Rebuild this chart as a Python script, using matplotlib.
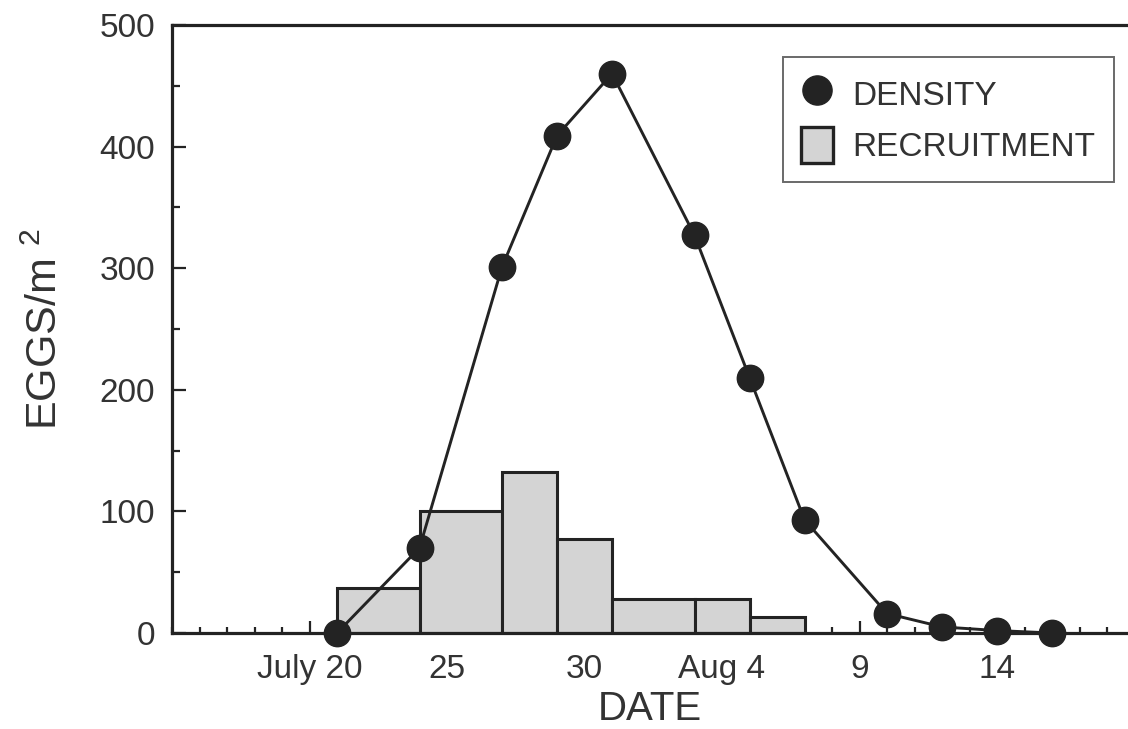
import matplotlib
matplotlib.use('Agg')
import matplotlib.pyplot as plt
from matplotlib.lines import Line2D
from matplotlib.patches import Patch
from matplotlib.ticker import MultipleLocator, FixedLocator

plt.rcParams['font.family'] = ['Liberation Sans', 'DejaVu Sans']
plt.rcParams['mathtext.default'] = 'regular'

# days counted from July 1 (Aug 1 = 32)
density_day = [21, 24, 27, 29, 31, 34, 36, 38, 41, 43, 45, 47]
density = [0, 70, 301, 409, 460, 327, 210, 93, 16, 5, 2, 0]

recruit_start = [21, 24, 27, 29, 31, 34, 36]
recruit_end = [24, 27, 29, 31, 34, 36, 38]
recruitment = [37, 100, 132, 77, 28, 28, 13]

tick_days = [20, 25, 30, 35, 40, 45]
tick_labels = ['July 20', '25', '30', 'Aug 4', '9', '14']

INK = '#232323'
TXT = '#333333'

fig = plt.figure(figsize=(11.28, 7.29), dpi=100)
ax = fig.add_axes([172 / 1128, 96 / 729, 956 / 1128, 608 / 729])

widths = [e - s for s, e in zip(recruit_start, recruit_end)]
ax.bar(recruit_start, recruitment, width=widths, align='edge',
       facecolor='#d4d4d4', edgecolor=INK, linewidth=2.2, zorder=2)

ax.plot(density_day, density, '-o', color=INK, lw=2.1,
        markersize=19, markerfacecolor=INK, markeredgecolor=INK,
        clip_on=False, zorder=4)

ax.set_xlim(15, 49.76)
ax.set_ylim(0, 500)

ax.xaxis.set_major_locator(FixedLocator(tick_days))
ax.set_xticklabels(tick_labels)
ax.xaxis.set_minor_locator(MultipleLocator(1))
ax.yaxis.set_major_locator(MultipleLocator(100))
ax.yaxis.set_minor_locator(MultipleLocator(50))

ax.tick_params(which='both', direction='in', color=INK, width=1.6,
               labelcolor=TXT, labelsize=24)
ax.tick_params(axis='x', which='major', length=9, pad=15)
ax.tick_params(axis='x', which='minor', length=4)
ax.tick_params(axis='y', which='major', length=10, pad=12)
ax.tick_params(axis='y', which='minor', length=6)
ax.tick_params(top=False, right=False, which='both')

for side in ['left', 'bottom', 'top']:
    ax.spines[side].set_linewidth(2.3)
    ax.spines[side].set_color(INK)
ax.spines['right'].set_visible(False)

ax.set_xlabel('DATE', fontsize=29, color=TXT, labelpad=4)
ax.set_ylabel('EGGS/m $^{2}$', fontsize=31, color=TXT, labelpad=24)

handles = [
    Line2D([], [], marker='o', linestyle='none', markersize=21,
           markerfacecolor=INK, markeredgecolor=INK, label='DENSITY'),
    Patch(facecolor='#d4d4d4', edgecolor=INK, linewidth=2.4,
          label='RECRUITMENT'),
]
leg = ax.legend(handles=handles, loc='upper right',
                bbox_to_anchor=(0.9854, 0.947), fontsize=24,
                frameon=True, fancybox=False, borderpad=0.55,
                handlelength=0.95, handleheight=1.3, handletextpad=0.6,
                labelspacing=0.45, borderaxespad=0)
leg.get_frame().set_edgecolor('#444444')
leg.get_frame().set_linewidth(1.4)
for t in leg.get_texts():
    t.set_color(TXT)

fig.savefig('out.png', dpi=100)
